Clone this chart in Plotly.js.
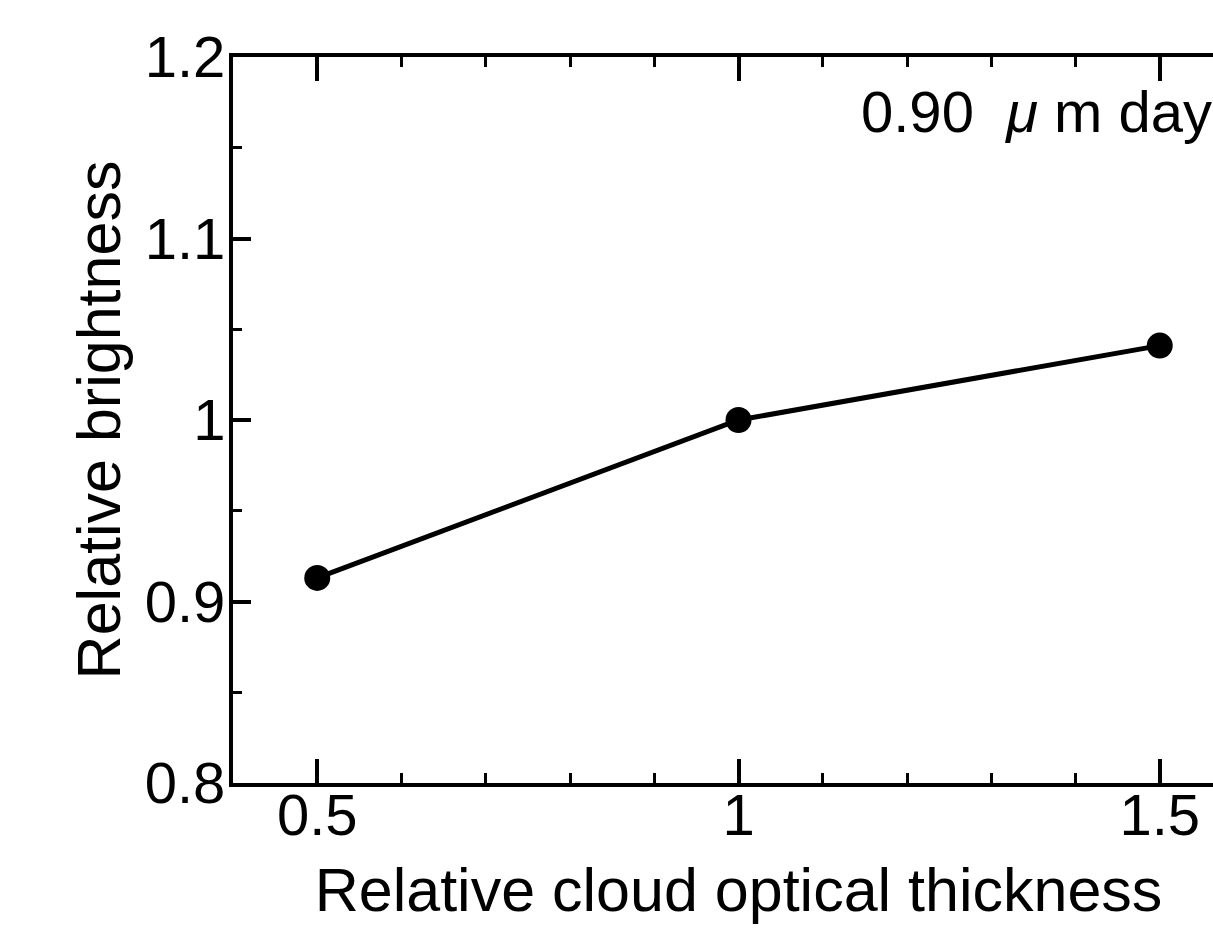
<!DOCTYPE html>
<html>
<head>
<meta charset="utf-8">
<script src="https://cdn.plot.ly/plotly-3.0.1.min.js"></script>
<style>
  html, body { margin: 0; padding: 0; overflow: hidden; background: #fff; width: 1213px; height: 928px; }
  #chart { width: 1260px; height: 928px; }
</style>
</head>
<body>
<div id="chart"></div>
<script>
// Data
const thickness = [0.5, 1.0, 1.5];
const brightness = [0.913, 1.0, 1.041];

const xTickVals = [0.5, 1, 1.5];
const xTickText = ['0.5', '1', '1.5'];
const yTickVals = [0.8, 0.9, 1.0, 1.1, 1.2];
const yTickText = ['0.8', '0.9', '1', '1.1', '1.2'];

const labelText = '0.90&nbsp;&nbsp;<i>μ</i> m day';
const xTitle = 'Relative cloud optical thickness';
const yTitle = 'Relative brightness';

const fontFamily = '"Liberation Sans", Arial, sans-serif';

const trace = {
  x: thickness,
  y: brightness,
  type: 'scatter',
  mode: 'lines+markers',
  line: { color: '#000', width: 5 },
  marker: { color: '#000', size: 26 },
  cliponaxis: false,
  showlegend: false
};

const layout = {
  width: 1260,
  height: 928,
  margin: { l: 233, r: 16, t: 57, b: 145 },
  paper_bgcolor: '#fff',
  plot_bgcolor: '#fff',
  font: { family: fontFamily, color: '#000', size: 58 },
  xaxis: {
    range: [0.4, 1.6],
    tickvals: xTickVals,
    ticktext: xTickText,
    ticks: 'inside',
    ticklen: 24,
    tickwidth: 4,
    tickcolor: '#000',
    showline: true,
    linewidth: 4,
    linecolor: '#000',
    mirror: 'ticks',
    showgrid: false,
    zeroline: false,
    ticklabelstandoff: -22,
    tickfont: { size: 58, family: fontFamily, color: '#000' },
    minor: { dtick: 0.1, tick0: 0.5, ticks: 'inside', ticklen: 10, tickwidth: 3, tickcolor: '#000', showgrid: false },
    title: { text: xTitle, font: { size: 61, family: fontFamily, color: '#000' }, standoff: 24 },
    automargin: true
  },
  yaxis: {
    range: [0.8, 1.2],
    tickvals: yTickVals,
    ticktext: yTickText,
    ticks: 'inside',
    ticklen: 18,
    tickwidth: 4,
    tickcolor: '#000',
    showline: true,
    linewidth: 4,
    linecolor: '#000',
    mirror: 'ticks',
    showgrid: false,
    zeroline: false,
    ticklabelstandoff: -8,
    tickfont: { size: 58, family: fontFamily, color: '#000' },
    minor: { dtick: 0.05, tick0: 0.8, ticks: 'inside', ticklen: 9, tickwidth: 3, tickcolor: '#000', showgrid: false },
    title: { text: yTitle, font: { size: 61, family: fontFamily, color: '#000' }, standoff: 5 },
    automargin: true
  },
  annotations: [{
    x: 1.143, y: 1.17, xref: 'x', yref: 'y',
    xanchor: 'left', yanchor: 'middle',
    text: labelText, showarrow: false,
    font: { size: 58, family: fontFamily, color: '#000' }
  }]
};

Plotly.newPlot('chart', [trace], layout, { displayModeBar: false, staticPlot: true });
</script>
</body>
</html>
